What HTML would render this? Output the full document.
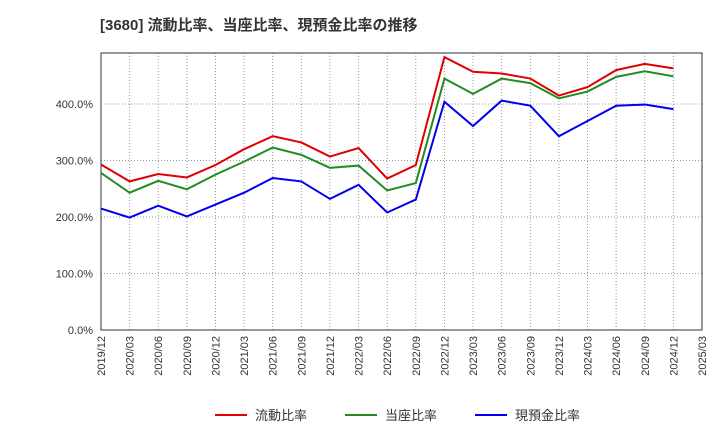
<!DOCTYPE html>
<html><head><meta charset="utf-8"><style>
body{margin:0;background:#fff;font-family:"Liberation Sans","Noto Sans CJK JP",sans-serif}
</style></head><body>
<svg width="720" height="440" xmlns="http://www.w3.org/2000/svg">
<text x="100" y="30" font-size="15" font-weight="bold" fill="#333" font-family="Liberation Sans,Noto Sans CJK JP,sans-serif">[3680]  流動比率、当座比率、現預金比率の推移</text>
<g id="grid"></g><g id="axes"></g><g id="series"></g>
<g id="legend" font-size="13" font-family="Liberation Sans,Noto Sans CJK JP,sans-serif"></g>
</svg>
<script>
const labels=["2019/12","2020/03","2020/06","2020/09","2020/12","2021/03","2021/06","2021/09","2021/12","2022/03","2022/06","2022/09","2022/12","2023/03","2023/06","2023/09","2023/12","2024/03","2024/06","2024/09","2024/12","2025/03"];
const yTicks=[0,100,200,300,400];
const current=[293,263,276,270,292,320,343,332,307,322,268,292,483,457,454,445,415,430,460,471,463];
const quick=[278,243,264,249,275,298,323,310,287,291,247,260,445,418,445,437,410,422,448,458,449];
const cash=[215,199,220,201,222,243,269,263,232,257,208,231,404,361,406,397,343,370,397,399,391];
const seriesNames=["流動比率","当座比率","現預金比率"];
const NS="http://www.w3.org/2000/svg";
const L=101,R=702,T=53,B=330;
const x=i=>L+i*(R-L)/(labels.length-1);
const y=v=>B-v*(B-104)/400;
function mk(t,a,p){const e=document.createElementNS(NS,t);for(const k in a)e.setAttribute(k,a[k]);p.appendChild(e);return e;}
const grid=document.getElementById('grid'),axes=document.getElementById('axes'),ser=document.getElementById('series'),leg=document.getElementById('legend');
for(let i=1;i<labels.length-1;i++){const g=mk('line',{x1:x(i),x2:x(i),y1:T,y2:B,stroke:'#999','stroke-dasharray':'1,2'},grid);

}
for(let v=100;v<=450;v+=100){const g=mk('line',{x1:L,x2:R,y1:y(v),y2:y(v),stroke:'#999','stroke-dasharray':'1,2'},grid);

}
const fr=mk('rect',{x:L,y:T,width:R-L,height:B-T,fill:'none',stroke:'#333'},axes);


yTicks.forEach(v=>{const t=mk('text',{x:L-8,y:y(v)+4,'text-anchor':'end','font-size':11,fill:'#333'},axes);t.textContent=v.toFixed(1)+'%';

});
labels.forEach((s,i)=>{const t=mk('text',{transform:`translate(${x(i)+4},${B+6}) rotate(-90)`,'text-anchor':'end','font-size':11,fill:'#333'},axes);t.textContent=s;

});
const cols=['#e00000','#228b22','#0000ee'];
[current,quick,cash].forEach((d,k)=>{const p=mk('polyline',{points:d.map((v,i)=>x(i)+','+y(v)).join(' '),fill:'none',stroke:cols[k],'stroke-width':2},ser);

});
const lx=[215,345,475];
seriesNames.forEach((n,k)=>{const g=mk('g',{},leg);


mk('line',{x1:lx[k],x2:lx[k]+32,y1:415,y2:415,stroke:cols[k],'stroke-width':2},g);
const t=mk('text',{x:lx[k]+40,y:420,fill:'#333'},g);t.textContent=n;});
</script>
</body></html>
